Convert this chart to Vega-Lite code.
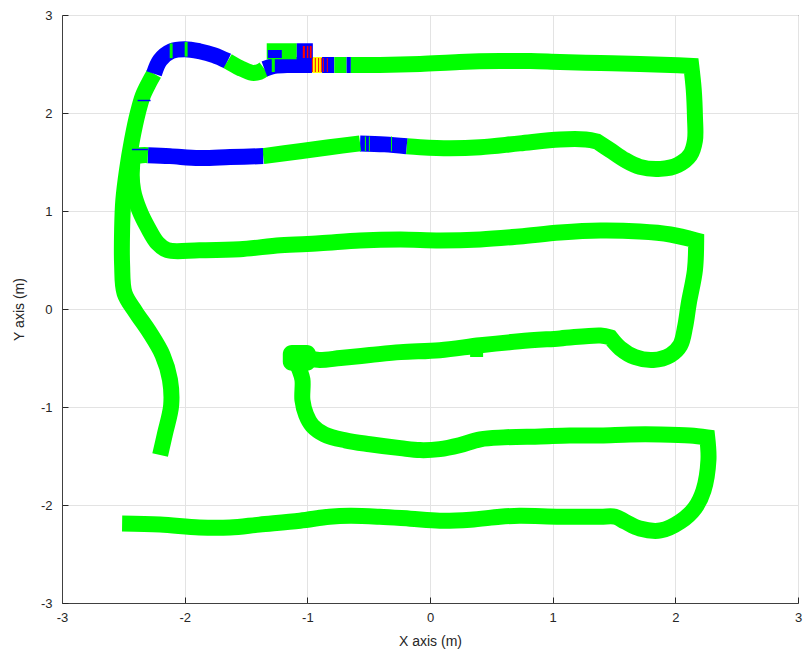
{
  "$schema": "https://vega.github.io/schema/vega-lite/v6.json",
  "width": 736,
  "height": 588,
  "autosize": {"type": "none"},
  "padding": {"left": 62, "top": 15, "right": 12, "bottom": 57},
  "background": "white",
  "config": {
    "font": "Liberation Sans",
    "view": {"stroke": "#404040", "strokeWidth": 1},
    "axis": {
      "grid": true,
      "gridColor": "#e3e3e3",
      "gridWidth": 1,
      "domainColor": "#404040",
      "tickColor": "#262626",
      "tickSize": -6,
      "labelColor": "#262626",
      "labelFontSize": 13,
      "labelFlush": false,
      "titleColor": "#262626",
      "titleFontSize": 14,
      "titleFontWeight": "normal"
    }
  },
  "datasets": {
    "path": [
      {"x": -2.2, "y": -1.49, "s": 1, "c": "g"},
      {"x": -2.16, "y": -1.27, "s": 1, "c": "g"},
      {"x": -2.11, "y": -0.98, "s": 1, "c": "g"},
      {"x": -2.12, "y": -0.72, "s": 1, "c": "g"},
      {"x": -2.18, "y": -0.47, "s": 1, "c": "g"},
      {"x": -2.29, "y": -0.23, "s": 1, "c": "g"},
      {"x": -2.4, "y": -0.03, "s": 1, "c": "g"},
      {"x": -2.49, "y": 0.16, "s": 1, "c": "g"},
      {"x": -2.51, "y": 0.45, "s": 1, "c": "g"},
      {"x": -2.51, "y": 0.81, "s": 1, "c": "g"},
      {"x": -2.5, "y": 1.11, "s": 1, "c": "g"},
      {"x": -2.47, "y": 1.42, "s": 1, "c": "g"},
      {"x": -2.43, "y": 1.72, "s": 1, "c": "g"},
      {"x": -2.38, "y": 2.01, "s": 1, "c": "g"},
      {"x": -2.34, "y": 2.18, "s": 1, "c": "g"},
      {"x": -2.29, "y": 2.31, "s": 1, "c": "g"},
      {"x": -2.25, "y": 2.4, "s": 1, "c": "g"},

      {"x": -2.25, "y": 2.4, "s": 2, "c": "b"},
      {"x": -2.2, "y": 2.54, "s": 2, "c": "b"},
      {"x": -2.11, "y": 2.63, "s": 2, "c": "b"},
      {"x": -2.0, "y": 2.65, "s": 2, "c": "b"},
      {"x": -1.88, "y": 2.63, "s": 2, "c": "b"},
      {"x": -1.76, "y": 2.59, "s": 2, "c": "b"},
      {"x": -1.65, "y": 2.53, "s": 2, "c": "b"},

      {"x": -1.65, "y": 2.53, "s": 3, "c": "g"},
      {"x": -1.55, "y": 2.46, "s": 3, "c": "g"},
      {"x": -1.45, "y": 2.41, "s": 3, "c": "g"},
      {"x": -1.39, "y": 2.42, "s": 3, "c": "g"},
      {"x": -1.35, "y": 2.45, "s": 3, "c": "g"},

      {"x": -1.35, "y": 2.45, "s": 4, "c": "b"},
      {"x": -1.27, "y": 2.48, "s": 4, "c": "b"},
      {"x": -1.14, "y": 2.49, "s": 4, "c": "b"},
      {"x": -0.96, "y": 2.49, "s": 4, "c": "b"},

      {"x": -0.96, "y": 2.49, "s": 5, "c": "y"},
      {"x": -0.88, "y": 2.49, "s": 5, "c": "y"},

      {"x": -0.88, "y": 2.49, "s": 6, "c": "b"},
      {"x": -0.78, "y": 2.49, "s": 6, "c": "b"},

      {"x": -0.78, "y": 2.49, "s": 7, "c": "g"},
      {"x": -0.68, "y": 2.49, "s": 7, "c": "g"},

      {"x": -0.68, "y": 2.49, "s": 8, "c": "b"},
      {"x": -0.645, "y": 2.49, "s": 8, "c": "b"},

      {"x": -0.645, "y": 2.49, "s": 9, "c": "g"},
      {"x": -0.41, "y": 2.49, "s": 9, "c": "g"},
      {"x": -0.08, "y": 2.5, "s": 9, "c": "g"},
      {"x": 0.24, "y": 2.52, "s": 9, "c": "g"},
      {"x": 0.57, "y": 2.53, "s": 9, "c": "g"},
      {"x": 0.82, "y": 2.53, "s": 9, "c": "g"},
      {"x": 1.06, "y": 2.52, "s": 9, "c": "g"},
      {"x": 1.39, "y": 2.51, "s": 9, "c": "g"},
      {"x": 1.71, "y": 2.5, "s": 9, "c": "g"},
      {"x": 1.96, "y": 2.49, "s": 9, "c": "g"},
      {"x": 2.13, "y": 2.48, "s": 9, "c": "g"},
      {"x": 2.13, "y": 2.48, "s": 9, "c": "g"},
      {"x": 2.15, "y": 2.24, "s": 9, "c": "g"},
      {"x": 2.16, "y": 1.96, "s": 9, "c": "g"},
      {"x": 2.16, "y": 1.72, "s": 9, "c": "g"},
      {"x": 2.12, "y": 1.57, "s": 9, "c": "g"},
      {"x": 2.02, "y": 1.47, "s": 9, "c": "g"},
      {"x": 1.88, "y": 1.43, "s": 9, "c": "g"},
      {"x": 1.71, "y": 1.45, "s": 9, "c": "g"},
      {"x": 1.59, "y": 1.52, "s": 9, "c": "g"},
      {"x": 1.47, "y": 1.62, "s": 9, "c": "g"},
      {"x": 1.36, "y": 1.71, "s": 9, "c": "g"},
      {"x": 1.36, "y": 1.71, "s": 9, "c": "g"},
      {"x": 1.27, "y": 1.73, "s": 9, "c": "g"},
      {"x": 1.06, "y": 1.73, "s": 9, "c": "g"},
      {"x": 0.73, "y": 1.69, "s": 9, "c": "g"},
      {"x": 0.41, "y": 1.65, "s": 9, "c": "g"},
      {"x": 0.16, "y": 1.64, "s": 9, "c": "g"},
      {"x": -0.08, "y": 1.65, "s": 9, "c": "g"},
      {"x": -0.19, "y": 1.66, "s": 9, "c": "g"},

      {"x": -0.19, "y": 1.66, "s": 10, "c": "b"},
      {"x": -0.37, "y": 1.68, "s": 10, "c": "b"},
      {"x": -0.57, "y": 1.69, "s": 10, "c": "b"},

      {"x": -0.57, "y": 1.69, "s": 11, "c": "g"},
      {"x": -0.82, "y": 1.65, "s": 11, "c": "g"},
      {"x": -1.06, "y": 1.61, "s": 11, "c": "g"},
      {"x": -1.36, "y": 1.56, "s": 11, "c": "g"},

      {"x": -1.36, "y": 1.56, "s": 12, "c": "b"},
      {"x": -1.63, "y": 1.55, "s": 12, "c": "b"},
      {"x": -1.88, "y": 1.54, "s": 12, "c": "b"},
      {"x": -2.12, "y": 1.56, "s": 12, "c": "b"},
      {"x": -2.3, "y": 1.57, "s": 12, "c": "b"},

      {"x": -2.3, "y": 1.57, "s": 13, "c": "g"},
      {"x": -2.41, "y": 1.55, "s": 13, "c": "g"},
      {"x": -2.43, "y": 1.42, "s": 13, "c": "g"},
      {"x": -2.42, "y": 1.21, "s": 13, "c": "g"},
      {"x": -2.37, "y": 1.01, "s": 13, "c": "g"},
      {"x": -2.3, "y": 0.83, "s": 13, "c": "g"},
      {"x": -2.22, "y": 0.67, "s": 13, "c": "g"},
      {"x": -2.14, "y": 0.6, "s": 13, "c": "g"},
      {"x": -1.88, "y": 0.6, "s": 13, "c": "g"},
      {"x": -1.55, "y": 0.61, "s": 13, "c": "g"},
      {"x": -1.22, "y": 0.65, "s": 13, "c": "g"},
      {"x": -0.9, "y": 0.67, "s": 13, "c": "g"},
      {"x": -0.57, "y": 0.7, "s": 13, "c": "g"},
      {"x": -0.24, "y": 0.71, "s": 13, "c": "g"},
      {"x": 0.08, "y": 0.7, "s": 13, "c": "g"},
      {"x": 0.41, "y": 0.71, "s": 13, "c": "g"},
      {"x": 0.73, "y": 0.74, "s": 13, "c": "g"},
      {"x": 1.06, "y": 0.78, "s": 13, "c": "g"},
      {"x": 1.39, "y": 0.8, "s": 13, "c": "g"},
      {"x": 1.71, "y": 0.79, "s": 13, "c": "g"},
      {"x": 1.96, "y": 0.76, "s": 13, "c": "g"},
      {"x": 2.17, "y": 0.7, "s": 13, "c": "g"},
      {"x": 2.17, "y": 0.7, "s": 13, "c": "g"},
      {"x": 2.16, "y": 0.4, "s": 13, "c": "g"},
      {"x": 2.11, "y": 0.06, "s": 13, "c": "g"},
      {"x": 2.08, "y": -0.18, "s": 13, "c": "g"},
      {"x": 2.04, "y": -0.37, "s": 13, "c": "g"},
      {"x": 1.96, "y": -0.47, "s": 13, "c": "g"},
      {"x": 1.82, "y": -0.52, "s": 13, "c": "g"},
      {"x": 1.67, "y": -0.49, "s": 13, "c": "g"},
      {"x": 1.55, "y": -0.4, "s": 13, "c": "g"},
      {"x": 1.47, "y": -0.29, "s": 13, "c": "g"},
      {"x": 1.47, "y": -0.29, "s": 13, "c": "g"},
      {"x": 1.39, "y": -0.27, "s": 13, "c": "g"},
      {"x": 1.06, "y": -0.3, "s": 13, "c": "g"},
      {"x": 0.73, "y": -0.33, "s": 13, "c": "g"},
      {"x": 0.41, "y": -0.37, "s": 13, "c": "g"},
      {"x": 0.08, "y": -0.42, "s": 13, "c": "g"},
      {"x": -0.24, "y": -0.44, "s": 13, "c": "g"},
      {"x": -0.49, "y": -0.47, "s": 13, "c": "g"},
      {"x": -0.73, "y": -0.5, "s": 13, "c": "g"},
      {"x": -0.9, "y": -0.52, "s": 13, "c": "g"},
      {"x": -1.1, "y": -0.5, "s": 13, "c": "g"},
      {"x": -1.07, "y": -0.6, "s": 13, "c": "g"},
      {"x": -1.04, "y": -0.72, "s": 13, "c": "g"},
      {"x": -1.04, "y": -0.93, "s": 13, "c": "g"},
      {"x": -1.01, "y": -1.08, "s": 13, "c": "g"},
      {"x": -0.96, "y": -1.19, "s": 13, "c": "g"},
      {"x": -0.86, "y": -1.28, "s": 13, "c": "g"},
      {"x": -0.69, "y": -1.34, "s": 13, "c": "g"},
      {"x": -0.49, "y": -1.38, "s": 13, "c": "g"},
      {"x": -0.24, "y": -1.42, "s": 13, "c": "g"},
      {"x": -0.08, "y": -1.44, "s": 13, "c": "g"},
      {"x": 0.08, "y": -1.43, "s": 13, "c": "g"},
      {"x": 0.24, "y": -1.39, "s": 13, "c": "g"},
      {"x": 0.41, "y": -1.33, "s": 13, "c": "g"},
      {"x": 0.6, "y": -1.31, "s": 13, "c": "g"},
      {"x": 0.9, "y": -1.3, "s": 13, "c": "g"},
      {"x": 1.14, "y": -1.29, "s": 13, "c": "g"},
      {"x": 1.39, "y": -1.29, "s": 13, "c": "g"},
      {"x": 1.63, "y": -1.28, "s": 13, "c": "g"},
      {"x": 1.88, "y": -1.28, "s": 13, "c": "g"},
      {"x": 2.12, "y": -1.29, "s": 13, "c": "g"},
      {"x": 2.26, "y": -1.31, "s": 13, "c": "g"},
      {"x": 2.26, "y": -1.31, "s": 13, "c": "g"},
      {"x": 2.27, "y": -1.54, "s": 13, "c": "g"},
      {"x": 2.23, "y": -1.85, "s": 13, "c": "g"},
      {"x": 2.16, "y": -2.03, "s": 13, "c": "g"},
      {"x": 2.04, "y": -2.17, "s": 13, "c": "g"},
      {"x": 1.88, "y": -2.26, "s": 13, "c": "g"},
      {"x": 1.71, "y": -2.24, "s": 13, "c": "g"},
      {"x": 1.59, "y": -2.17, "s": 13, "c": "g"},
      {"x": 1.51, "y": -2.12, "s": 13, "c": "g"},
      {"x": 1.39, "y": -2.12, "s": 13, "c": "g"},
      {"x": 1.06, "y": -2.12, "s": 13, "c": "g"},
      {"x": 0.73, "y": -2.11, "s": 13, "c": "g"},
      {"x": 0.57, "y": -2.12, "s": 13, "c": "g"},
      {"x": 0.33, "y": -2.15, "s": 13, "c": "g"},
      {"x": 0.08, "y": -2.16, "s": 13, "c": "g"},
      {"x": -0.16, "y": -2.14, "s": 13, "c": "g"},
      {"x": -0.41, "y": -2.12, "s": 13, "c": "g"},
      {"x": -0.65, "y": -2.11, "s": 13, "c": "g"},
      {"x": -0.82, "y": -2.12, "s": 13, "c": "g"},
      {"x": -1.06, "y": -2.16, "s": 13, "c": "g"},
      {"x": -1.39, "y": -2.2, "s": 13, "c": "g"},
      {"x": -1.63, "y": -2.23, "s": 13, "c": "g"},
      {"x": -1.88, "y": -2.23, "s": 13, "c": "g"},
      {"x": -2.2, "y": -2.2, "s": 13, "c": "g"},
      {"x": -2.51, "y": -2.19, "s": 13, "c": "g"},

      {"x": -1.331, "y": 2.63, "s": 14, "c": "g"},
      {"x": -1.086, "y": 2.63, "s": 14, "c": "g"},
      {"x": -1.086, "y": 2.63, "s": 15, "c": "b"},
      {"x": -0.955, "y": 2.63, "s": 15, "c": "b"}
    ],
    "patches": [
      {"x": -2.122, "x2": -2.098, "y": 2.56, "y2": 2.71, "c": "g", "k": "stripe"},
      {"x": -2.0, "x2": -1.976, "y": 2.575, "y2": 2.725, "c": "g", "k": "stripe"},
      {"x": -2.384, "x2": -2.278, "y": 2.12, "y2": 2.135, "c": "b", "k": "stripe"},
      {"x": -2.43, "x2": -2.3, "y": 1.62, "y2": 1.635, "c": "b", "k": "stripe"},
      {"x": -1.322, "x2": -1.208, "y": 2.561, "y2": 2.643, "c": "b", "k": "stripe"},
      {"x": -1.29, "x2": -1.265, "y": 2.418, "y2": 2.561, "c": "g", "k": "stripe"},
      {"x": -1.037, "x2": -1.02, "y": 2.561, "y2": 2.684, "c": "r", "k": "stripe"},
      {"x": -1.004, "x2": -0.992, "y": 2.561, "y2": 2.684, "c": "r", "k": "stripe"},
      {"x": -0.98, "x2": -0.965, "y": 2.561, "y2": 2.684, "c": "r", "k": "stripe"},
      {"x": -0.963, "x2": -0.955, "y": 2.418, "y2": 2.561, "c": "r", "k": "stripe"},
      {"x": -0.939, "x2": -0.931, "y": 2.418, "y2": 2.561, "c": "r", "k": "stripe"},
      {"x": -0.912, "x2": -0.904, "y": 2.418, "y2": 2.561, "c": "r", "k": "stripe"},
      {"x": -0.89, "x2": -0.882, "y": 2.418, "y2": 2.561, "c": "r", "k": "stripe"},
      {"x": -0.873, "x2": -0.865, "y": 2.418, "y2": 2.561, "c": "r", "k": "stripe"},
      {"x": -0.841, "x2": -0.833, "y": 2.418, "y2": 2.561, "c": "r", "k": "stripe"},
      {"x": -0.531, "x2": -0.522, "y": 1.61, "y2": 1.76, "c": "g", "k": "stripe"},
      {"x": -0.498, "x2": -0.49, "y": 1.61, "y2": 1.76, "c": "g", "k": "stripe"},
      {"x": -0.318, "x2": -0.31, "y": 1.61, "y2": 1.76, "c": "g", "k": "stripe"},
      {"x": 0.327, "x2": 0.433, "y": -0.49, "y2": -0.418, "c": "g", "k": "stripe"},
      {"x": -0.914, "x2": -0.718, "y": -2.12, "y2": -2.05, "c": "g", "k": "stripe"},
      {"x": -1.2, "x2": -0.93, "y": -0.63, "y2": -0.367, "c": "g", "k": "blob"}
    ]
  },
  "encoding": {
    "x": {
      "field": "x",
      "type": "quantitative",
      "scale": {"domain": [-3, 3], "nice": false, "zero": false},
      "axis": {
        "title": "X axis (m)",
        "values": [-3, -2, -1, 0, 1, 2, 3],
        "labelPadding": 14,
        "labelExpr": "'' + datum.value",
        "titlePadding": 10
      }
    },
    "y": {
      "field": "y",
      "type": "quantitative",
      "scale": {"domain": [-3, 3], "nice": false, "zero": false},
      "axis": {
        "title": "Y axis (m)",
        "values": [-3, -2, -1, 0, 1, 2, 3],
        "labelPadding": 16,
        "labelExpr": "'' + datum.value",
        "titlePadding": 14
      }
    }
  },
  "layer": [
    {
      "data": {"name": "path"},
      "mark": {
        "type": "line",
        "interpolate": "catmull-rom",
        "strokeWidth": 16,
        "strokeCap": "butt",
        "strokeJoin": "miter",
        "strokeMiterLimit": 2,
        "clip": true
      },
      "encoding": {
        "detail": {"field": "s", "type": "nominal"},
        "color": {
          "field": "c",
          "type": "nominal",
          "scale": {
            "domain": ["g", "b", "y", "r"],
            "range": ["#00ff00", "#0000ff", "#ffff00", "#ff0000"]
          },
          "legend": null
        },
        "order": {"value": null}
      }
    },
    {
      "data": {"name": "patches"},
      "transform": [{"filter": "datum.k == 'stripe'"}],
      "mark": {"type": "rect", "clip": true},
      "encoding": {
        "x2": {"field": "x2"},
        "y2": {"field": "y2"},
        "color": {"field": "c", "type": "nominal", "legend": null}
      }
    },
    {
      "data": {"name": "patches"},
      "transform": [{"filter": "datum.k == 'blob'"}],
      "mark": {"type": "rect", "cornerRadius": 9, "clip": true},
      "encoding": {
        "x2": {"field": "x2"},
        "y2": {"field": "y2"},
        "color": {"field": "c", "type": "nominal", "legend": null}
      }
    }
  ]
}
